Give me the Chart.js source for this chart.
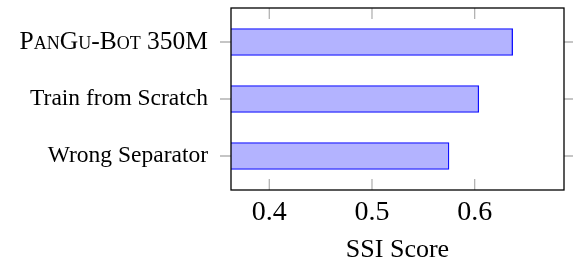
<!DOCTYPE html>
<html>
<head>
<meta charset="utf-8">
<script src="https://cdn.jsdelivr.net/npm/chart.js@4"></script>
<style>
html,body{margin:0;padding:0;background:#fff;}
#wrap{width:573px;height:263px;position:relative;}
</style>
</head>
<body>
<div id="wrap"><canvas id="c" width="573" height="263"></canvas></div>
<script>
const categories = ["PanGu-Bot 350M", "Train from Scratch", "Wrong Separator"];
const ssiScores = [0.637, 0.604, 0.575];
const xTickValues = [0.4, 0.5, 0.6];
const axisTitle = "SSI Score";

const SERIF = '"Liberation Serif", "Times New Roman", serif';

const framePlugin = {
  id: 'frame',
  afterDraw(chart) {
    const ctx = chart.ctx;
    const a = chart.chartArea;
    const xs = chart.scales.x, ys = chart.scales.y;
    ctx.save();
    ctx.strokeStyle = '#b3b3b3';
    ctx.lineWidth = 1.3;
    const tl = 11;
    ctx.beginPath();
    xTickValues.forEach(v => {
      const px = xs.getPixelForValue(v);
      ctx.moveTo(px, a.bottom); ctx.lineTo(px, a.bottom - tl);
      ctx.moveTo(px, a.top); ctx.lineTo(px, a.top + tl);
    });
    categories.forEach((c, i) => {
      const py = ys.getPixelForValue(i);
      ctx.moveTo(a.left - tl, py); ctx.lineTo(a.left, py);
      ctx.moveTo(a.right, py); ctx.lineTo(a.right + tl, py);
    });
    ctx.stroke();
    ctx.strokeStyle = '#000';
    ctx.lineWidth = 1.3;
    ctx.strokeRect(a.left, a.top, a.right - a.left, a.bottom - a.top);
    ctx.restore();
  }
};

function zeroPad(s) { s.paddingTop = 0; s.paddingBottom = 0; s.paddingLeft = 0; s.paddingRight = 0; }

new Chart(document.getElementById('c'), {
  type: 'bar',
  data: {
    datasets: [{
      data: ssiScores.map((v, i) => ({x: v, y: i})),
      backgroundColor: '#b3b3ff',
      borderColor: '#1010ff',
      borderWidth: 1.3,
      borderSkipped: false,
      barThickness: 27
    }]
  },
  options: {
    indexAxis: 'y',
    responsive: false,
    animation: false,
    devicePixelRatio: 1,
    layout: {padding: {top: 8, right: 9, left: 0, bottom: 0}},
    plugins: {legend: {display: false}, tooltip: {enabled: false}},
    scales: {
      x: {
        type: 'linear',
        position: 'bottom',
        min: 0.3627,
        max: 0.687,
        afterBuildTicks: s => { s.ticks = xTickValues.map(v => ({value: v})); },
        afterFit: s => { s.height = 73; zeroPad(s); },
        grid: {display: false, drawTicks: false},
        border: {display: false},
        ticks: {
          color: '#000',
          padding: 6,
          font: {family: SERIF, size: 28},
          callback: v => Number(v).toFixed(1)
        },
        title: {
          display: true,
          text: axisTitle,
          color: '#000',
          padding: {top: 0, bottom: -3},
          font: {family: SERIF, size: 26}
        }
      },
      y: {
        type: 'linear',
        position: 'left',
        reverse: true,
        offset: false,
        min: -0.596,
        max: 2.596,
        afterBuildTicks: s => { s.ticks = categories.map((c, i) => ({value: i})); },
        afterFit: s => { s.width = 231; zeroPad(s); },
        grid: {display: false, offset: false, drawTicks: false},
        border: {display: false},
        ticks: {
          color: '#000',
          padding: 23,
          font: ctx => ctx.index === 0
            ? {family: SERIF, size: 25.5, weight: 'small-caps'}
            : {family: SERIF, size: 23.5},
          callback: v => categories[v]
        }
      }
    }
  },
  plugins: [framePlugin]
});
</script>
</body>
</html>
